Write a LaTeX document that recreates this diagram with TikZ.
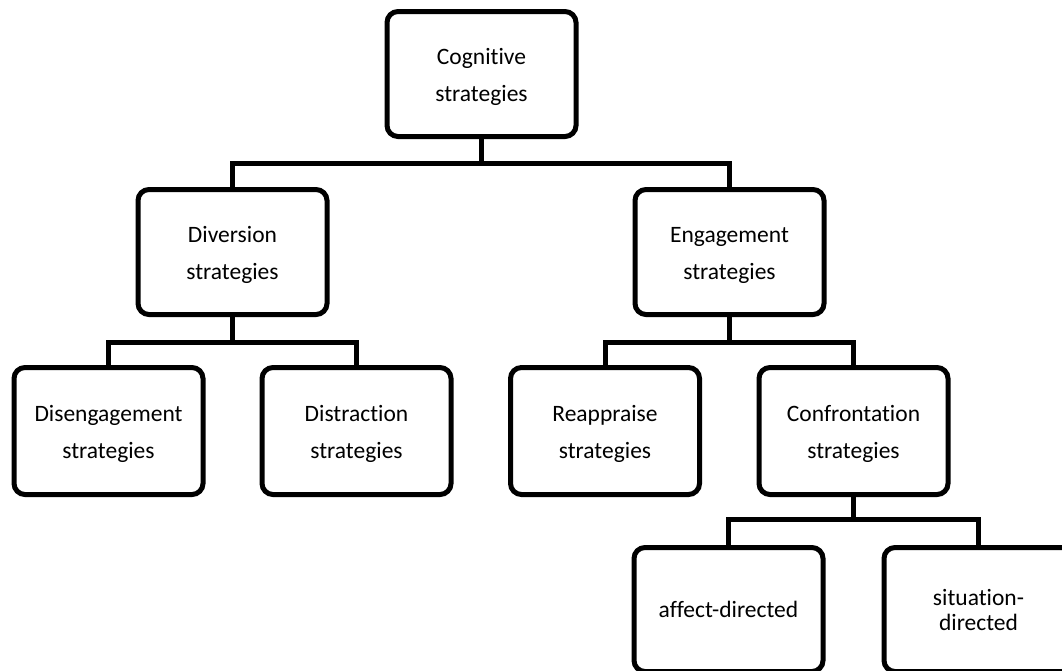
\documentclass[tikz,border=0pt]{standalone}
\usepackage{fontspec}
\setmainfont{Carlito}[Ligatures=NoCommon]
% invisible strut that lowers two-line labels slightly inside their boxes
\newcommand{\lowerstrut}{\rule{0pt}{22pt}}
\begin{document}
\begin{tikzpicture}[x=1pt,y=-1pt,
  box/.style={draw=black, line width=5pt, rounded corners=11pt, fill=white,
    minimum width=189pt, minimum height=125pt, inner sep=0pt, outer sep=0pt,
    align=center, font=\fontsize{23.5}{37}\selectfont},
  link/.style={draw=black, line width=5pt, line join=miter}]
\clip (0,0) rectangle (1062,670);
\fill[white] (0,0) rectangle (1062,670);

% level 0
\node[box] (cog) at (481.5,74) {\lowerstrut Cognitive\\strategies};
% level 1
\node[box] (div) at (232.5,252) {\lowerstrut Diversion\\strategies};
\node[box] (eng) at (729.5,252) {\lowerstrut Engagement\\strategies};
% level 2
\node[box, minimum height=127pt] (dis)  at (108.5,431) {\lowerstrut Disengagement\\strategies};
\node[box, minimum height=127pt] (dist) at (356.5,431) {\lowerstrut Distraction\\strategies};
\node[box, minimum height=127pt] (rea)  at (605,431)   {\lowerstrut Reappraise\\strategies};
\node[box, minimum height=127pt] (con)  at (853.5,431) {\lowerstrut Confrontation\\strategies};
% level 3
\node[box, minimum height=124pt] (aff) at (728.5,609.5) {affect-directed};
\node[box, minimum height=124pt, font=\fontsize{23.5}{25}\selectfont] (sit) at (978.5,609.5) {situation-\\directed};

% junction points of the elbow connectors
\coordinate (j0) at (481.5,163);
\coordinate (j1) at (232.5,342);
\coordinate (j2) at (729.5,342);
\coordinate (j3) at (853.5,519);

\draw[link] (cog.south) -- (j0);
\draw[link] (div.north) |- (j0) -| (eng.north);
\draw[link] (div.south) -- (j1);
\draw[link] (dis.north) |- (j1) -| (dist.north);
\draw[link] (eng.south) -- (j2);
\draw[link] (rea.north) |- (j2) -| (con.north);
\draw[link] (con.south) -- (j3);
\draw[link] (aff.north) |- (j3) -| (sit.north);
\end{tikzpicture}
\end{document}
